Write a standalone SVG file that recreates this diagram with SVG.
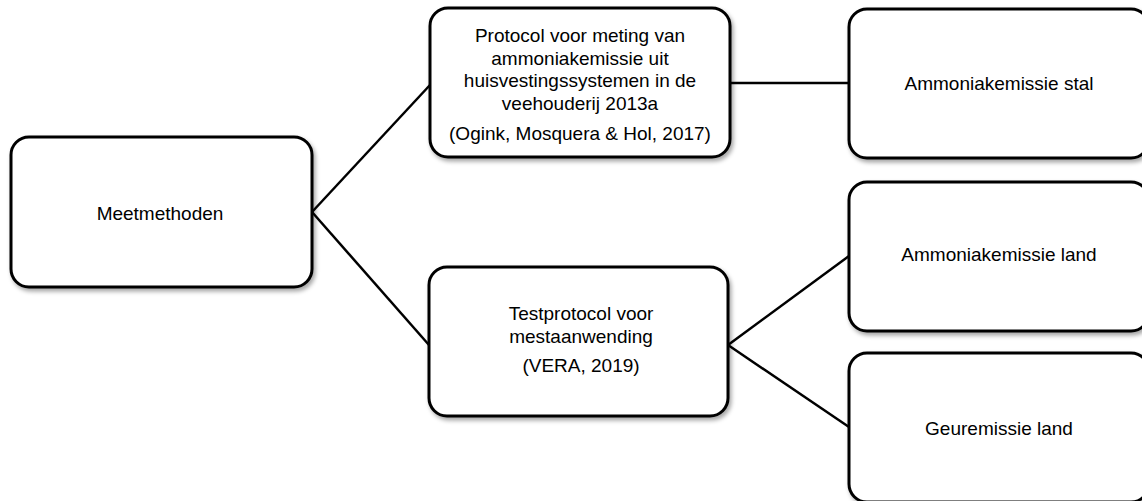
<svg xmlns="http://www.w3.org/2000/svg" width="1142" height="501" viewBox="0 0 1142 501">
<style>
.box{fill:#fff;stroke:#000;stroke-width:3;filter:url(#sh)}
.t{font-family:"Liberation Sans",Arial,sans-serif;font-size:19px;fill:#000;text-anchor:middle}
.c{stroke:#000;stroke-width:2.5;fill:none}
</style>
<defs>
<filter id="sh" x="-10%" y="-10%" width="120%" height="130%">
<feDropShadow dx="2" dy="3" stdDeviation="2" flood-color="#000" flood-opacity="0.35"/>
</filter>
</defs>
<rect width="1142" height="501" fill="#fff"/>
<g id="connectors">
<line class="c" x1="312" y1="212" x2="430" y2="85"/>
<line class="c" x1="312" y1="212" x2="429" y2="345"/>
<line class="c" x1="730" y1="83" x2="849" y2="83"/>
<line class="c" x1="728" y1="345" x2="849" y2="256"/>
<line class="c" x1="728" y1="345" x2="849" y2="427"/>
</g>
<g id="meetmethoden">
<rect class="box" x="11" y="137" width="301" height="150" rx="18"/>
<text class="t" x="160" y="220">Meetmethoden</text>
</g>
<g id="protocol">
<rect class="box" x="430" y="8" width="300" height="149" rx="18"/>
<text class="t" x="580" y="42">Protocol voor meting van</text>
<text class="t" x="580" y="64.5">ammoniakemissie uit</text>
<text class="t" x="580" y="87">huisvestingssystemen in de</text>
<text class="t" x="580" y="109.5">veehouderij 2013a</text>
<text class="t" x="580" y="140">(Ogink, Mosquera &amp; Hol, 2017)</text>
</g>
<g id="testprotocol">
<rect class="box" x="429" y="267" width="299" height="149" rx="18"/>
<text class="t" x="581" y="320">Testprotocol voor</text>
<text class="t" x="581" y="343">mestaanwending</text>
<text class="t" x="581" y="372">(VERA, 2019)</text>
</g>
<g id="stal">
<rect class="box" x="849" y="9" width="300" height="149" rx="18"/>
<text class="t" x="999" y="90">Ammoniakemissie stal</text>
</g>
<g id="land">
<rect class="box" x="849" y="182" width="300" height="149" rx="18"/>
<text class="t" x="999" y="261">Ammoniakemissie land</text>
</g>
<g id="geur">
<rect class="box" x="849" y="353" width="300" height="149" rx="18"/>
<text class="t" x="999" y="435">Geuremissie land</text>
</g>
</svg>
